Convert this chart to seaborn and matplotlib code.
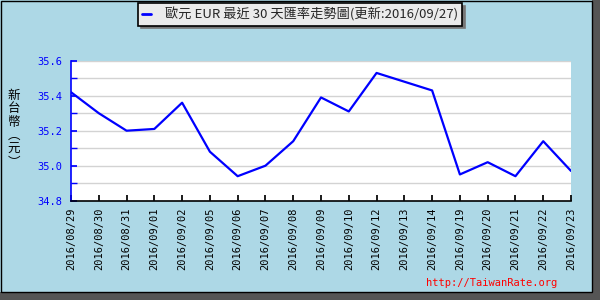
import matplotlib
matplotlib.use("Agg")
import matplotlib.pyplot as plt
import seaborn as sns
import pandas as pd
from matplotlib.patches import Rectangle
from matplotlib.lines import Line2D

dates = ["2016/08/29", "2016/08/30", "2016/08/31", "2016/09/01", "2016/09/02",
         "2016/09/05", "2016/09/06", "2016/09/07", "2016/09/08", "2016/09/09",
         "2016/09/10", "2016/09/12", "2016/09/13", "2016/09/14", "2016/09/19",
         "2016/09/20", "2016/09/21", "2016/09/22", "2016/09/23"]
rates = [35.42, 35.30, 35.20, 35.21, 35.36,
         35.08, 34.94, 35.00, 35.14, 35.39,
         35.31, 35.53, 35.48, 35.43, 34.95,
         35.02, 34.94, 35.14, 34.97]
y_ticks = [34.8, 35.0, 35.2, 35.4, 35.6]
title_text = "歐元 EUR 最近 30 天匯率走勢圖(更新:2016/09/27)"
ylabel_text = "新\n台\n幣\n︵\n元\n︶"
watermark = "http://TaiwanRate.org"

sns.set_theme(style="white")
plt.rcParams['font.family'] = ['DejaVu Sans Mono', 'Noto Sans CJK TC']

df = pd.DataFrame({"date": dates, "rate": rates})

fig = plt.figure(figsize=(6, 3), dpi=100)
fig.patch.set_facecolor('#add8e6')

# shadow frame at right/bottom, black outline
fig.add_artist(Rectangle((592/600, 0), 8/600, 1, transform=fig.transFigure,
                         facecolor='#555555', edgecolor='none', zorder=-5))
fig.add_artist(Rectangle((0, 0), 1, 8/300, transform=fig.transFigure,
                         facecolor='#555555', edgecolor='none', zorder=-5))
fig.add_artist(Rectangle((0.5/600, 8/300), 591.5/600, 291.5/300, transform=fig.transFigure,
                         facecolor='none', edgecolor='black', linewidth=1, zorder=-4))

ax = fig.add_axes([71/600, 1 - 200.7/300, 500/600, 140/300])
ax.set_facecolor('white')
sns.lineplot(data=df, x="date", y="rate", ax=ax, color='#0000ff', linewidth=1.6, sort=False)

ax.set_xlim(0, len(dates) - 1)
ax.set_ylim(34.8, 35.6)
ax.set_yticks(y_ticks)
ax.set_yticklabels([f"{v:.1f}" for v in y_ticks], color='#0000ff', fontsize=7.5)
ax.set_yticks([34.9, 35.1, 35.3, 35.5], minor=True)
ax.set_xticks(range(len(dates)))
ax.set_xticklabels(dates, rotation=90, fontsize=7.5, color='black', va='top')
ax.grid(True, which='both', axis='y', color='#d3d3d3', linewidth=1)
ax.grid(False, axis='x')
ax.set_xlabel("")
ax.set_ylabel("")
ax.tick_params(axis='y', which='both', direction='in', length=4, color='#0000ff',
               left=True, pad=6)
ax.tick_params(axis='x', direction='in', length=4, color='black', bottom=True, pad=5)
for s in ['top', 'right']:
    ax.spines[s].set_visible(False)
ax.spines['left'].set_color('#0000ff')
ax.spines['left'].set_linewidth(1.2)
ax.spines['bottom'].set_color('black')
ax.spines['bottom'].set_linewidth(1.2)

# legend / title box
handle = Line2D([], [], color='#0000ff', linewidth=2)
leg = fig.legend([handle], [title_text], loc='center', bbox_to_anchor=(0.5, 1 - 14.5/300),
                 frameon=True, fancybox=False, shadow={'color': '#777777', 'alpha': 1},
                 handlelength=0.7, handletextpad=1.0, borderpad=0.3, borderaxespad=0,
                 prop={'family': ['Noto Sans CJK TC', 'DejaVu Sans Mono'], 'size': 9.5})
leg.get_frame().set_facecolor('#ebebeb')
leg.get_frame().set_edgecolor('black')
leg.get_frame().set_linewidth(1.2)
leg.get_frame().set_alpha(1)

fig.text(14/600, 1 - 129/300, ylabel_text, ha='center', va='center', fontsize=9,
         family=['Noto Sans CJK TC', 'DejaVu Sans'], linespacing=1.05, color='black')

fig.text(557/600, 1 - 283/300, watermark, ha='right', va='center', color='red',
         fontsize=7.5, family='DejaVu Sans Mono')

fig.savefig("out.png", dpi=100, facecolor=fig.get_facecolor())
